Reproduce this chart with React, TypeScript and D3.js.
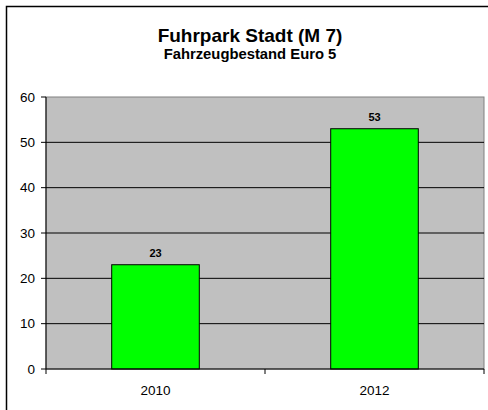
import React from "react";
import * as d3 from "d3";

const categories = ["2010", "2012"];
const values = [23, 53];
const yTicks = [0, 10, 20, 30, 40, 50, 60];
const title = "Fuhrpark Stadt (M 7)";
const subtitle = "Fahrzeugbestand Euro 5";

const W = 488;
const H = 410;
const plot = { left: 46, right: 484, top: 97, bottom: 369 };
const font = "Arial, 'Liberation Sans', sans-serif";

export default function App() {
  const x = d3
    .scaleBand<string>()
    .domain(categories)
    .range([plot.left, plot.right])
    .paddingInner(0.6)
    .paddingOuter(0.3);
  const y = d3.scaleLinear().domain([0, 60]).range([plot.bottom, plot.top]);
  const bounds = [plot.left, ...categories.map((c) => (x(c) as number) + x.bandwidth() / 2 + x.step() / 2)];

  return (
    <svg
      width={W}
      height={H}
      style={{ position: "absolute", left: 0, top: 0, background: "#fff" }}
      fontFamily={font}
    >
      <rect x={0} y={0} width={W} height={H} fill="#fff" />
      <rect x={6.5} y={6.5} width={W + 10} height={H + 10} fill="none" stroke="#000" strokeWidth={1.5} />
      <text x={250} y={41.5} textAnchor="middle" fontSize={19} fontWeight="bold" fill="#000">
        {title}
      </text>
      <text x={250} y={58.5} textAnchor="middle" fontSize={14.8} fontWeight="bold" fill="#000">
        {subtitle}
      </text>
      <rect
        x={plot.left}
        y={plot.top}
        width={plot.right - plot.left}
        height={plot.bottom - plot.top}
        fill="#C0C0C0"
        stroke="#808080"
        strokeWidth={1}
      />
      {yTicks
        .filter((t) => t !== 0 && t !== 60)
        .map((t) => (
          <line key={"g" + t} x1={plot.left} x2={plot.right} y1={y(t)} y2={y(t)} stroke="#000" strokeWidth={1} />
        ))}
      {categories.map((c, i) => (
        <rect
          key={c}
          x={x(c)}
          y={y(values[i])}
          width={x.bandwidth()}
          height={y(0) - y(values[i])}
          fill="#00FF00"
          stroke="#000"
          strokeWidth={1}
        />
      ))}
      {categories.map((c, i) => (
        <text
          key={"v" + c}
          x={(x(c) as number) + x.bandwidth() / 2}
          y={y(values[i]) - 8}
          textAnchor="middle"
          fontSize={11}
          fontWeight="bold"
          fill="#000"
        >
          {values[i]}
        </text>
      ))}
      <line x1={plot.left} x2={plot.left} y1={plot.top} y2={plot.bottom} stroke="#000" strokeWidth={1} />
      <line x1={plot.left} x2={plot.right} y1={plot.bottom} y2={plot.bottom} stroke="#000" strokeWidth={1} />
      {yTicks.map((t) => (
        <g key={"t" + t}>
          <line x1={plot.left - 5} x2={plot.left} y1={y(t)} y2={y(t)} stroke="#000" strokeWidth={1} />
          <text x={35} y={y(t)} dy="0.35em" textAnchor="end" fontSize={13.5} fill="#000">
            {t}
          </text>
        </g>
      ))}
      {bounds.map((b, i) => (
        <line key={"xt" + i} x1={b} x2={b} y1={plot.bottom} y2={plot.bottom + 5} stroke="#000" strokeWidth={1} />
      ))}
      {categories.map((c) => (
        <text
          key={"x" + c}
          x={(x(c) as number) + x.bandwidth() / 2}
          y={395}
          textAnchor="middle"
          fontSize={13.5}
          fill="#000"
        >
          {c}
        </text>
      ))}
    </svg>
  );
}
